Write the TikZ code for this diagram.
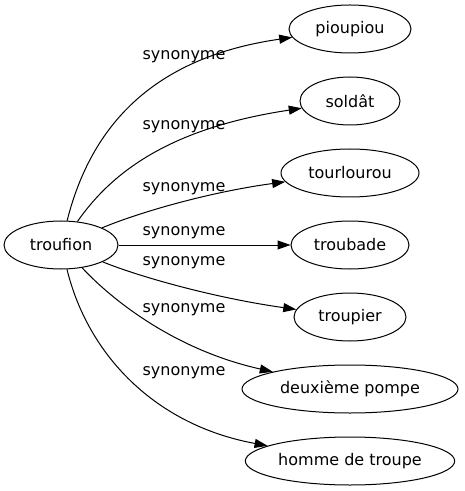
\documentclass[tikz,border=0pt]{standalone}
\usepackage{fontspec}
\setmainfont{DejaVu Sans}
\usetikzlibrary{shapes.geometric,arrows.meta}

\begin{document}
\begin{tikzpicture}[x=0.75pt,y=-0.75pt,
    synarrow/.style={draw=black,line width=0.75pt,-{Triangle[length=9.75pt,width=6.75pt]}}]
    \useasboundingbox (0,0) rectangle (464,491);

    \begin{scope}[every node/.style={draw=black,ellipse,line width=0.75pt,minimum height=36pt,inner sep=1pt,font=\fontsize{12}{14}\selectfont}]
        \node[minimum width=85.5pt] (W) at (61, 245) {troufion};

        \node[minimum width=91.5pt] (S_1) at (350, 29) {pioupiou};  % rows 72 apart
        \node[minimum width=75pt] (S_2) at (350, 101) {soldât};
        \node[minimum width=103.5pt] (S_3) at (350, 173) {tourlourou};
        \node[minimum width=88.5pt] (S_4) at (350, 245) {troubade};
        \node[minimum width=84pt] (S_5) at (350, 317) {troupier};
        \node[minimum width=162pt] (S_6) at (350, 389) {deuxième pompe};
        \node[minimum width=157pt] (S_7) at (350, 461) {homme de troupe};
    \end{scope}

    \begin{scope}[every node/.style={inner sep=0pt,font=\fontsize{12}{14}\selectfont}]
        \node (L_1) at (184, 57) {synonyme};
        \node (L_2) at (184, 126.5) {synonyme};
        \node (L_3) at (184, 189) {synonyme};
        \node (L_4) at (184, 233) {synonyme};
        \node (L_5) at (184, 263) {synonyme};
        \node (L_6) at (184, 310) {synonyme};
        \node (L_7) at (184, 373) {synonyme};
    \end{scope}

    \draw[synarrow] (W) .. controls (95, 110) and (170, 55) .. (S_1);
    \draw[synarrow] (W) .. controls (112, 172) and (170, 128) .. (S_2);
    \draw[synarrow] (W) .. controls (140, 212) and (210, 192) .. (S_3);
    \draw[synarrow] (W) -- (S_4);
    \draw[synarrow] (W) .. controls (140, 277) and (215, 298) .. (S_5);
    \draw[synarrow] (W) .. controls (112, 300) and (175, 350) .. (S_6);
    \draw[synarrow] (W) .. controls (88, 355) and (155, 425) .. (S_7);
\end{tikzpicture}
\end{document}
